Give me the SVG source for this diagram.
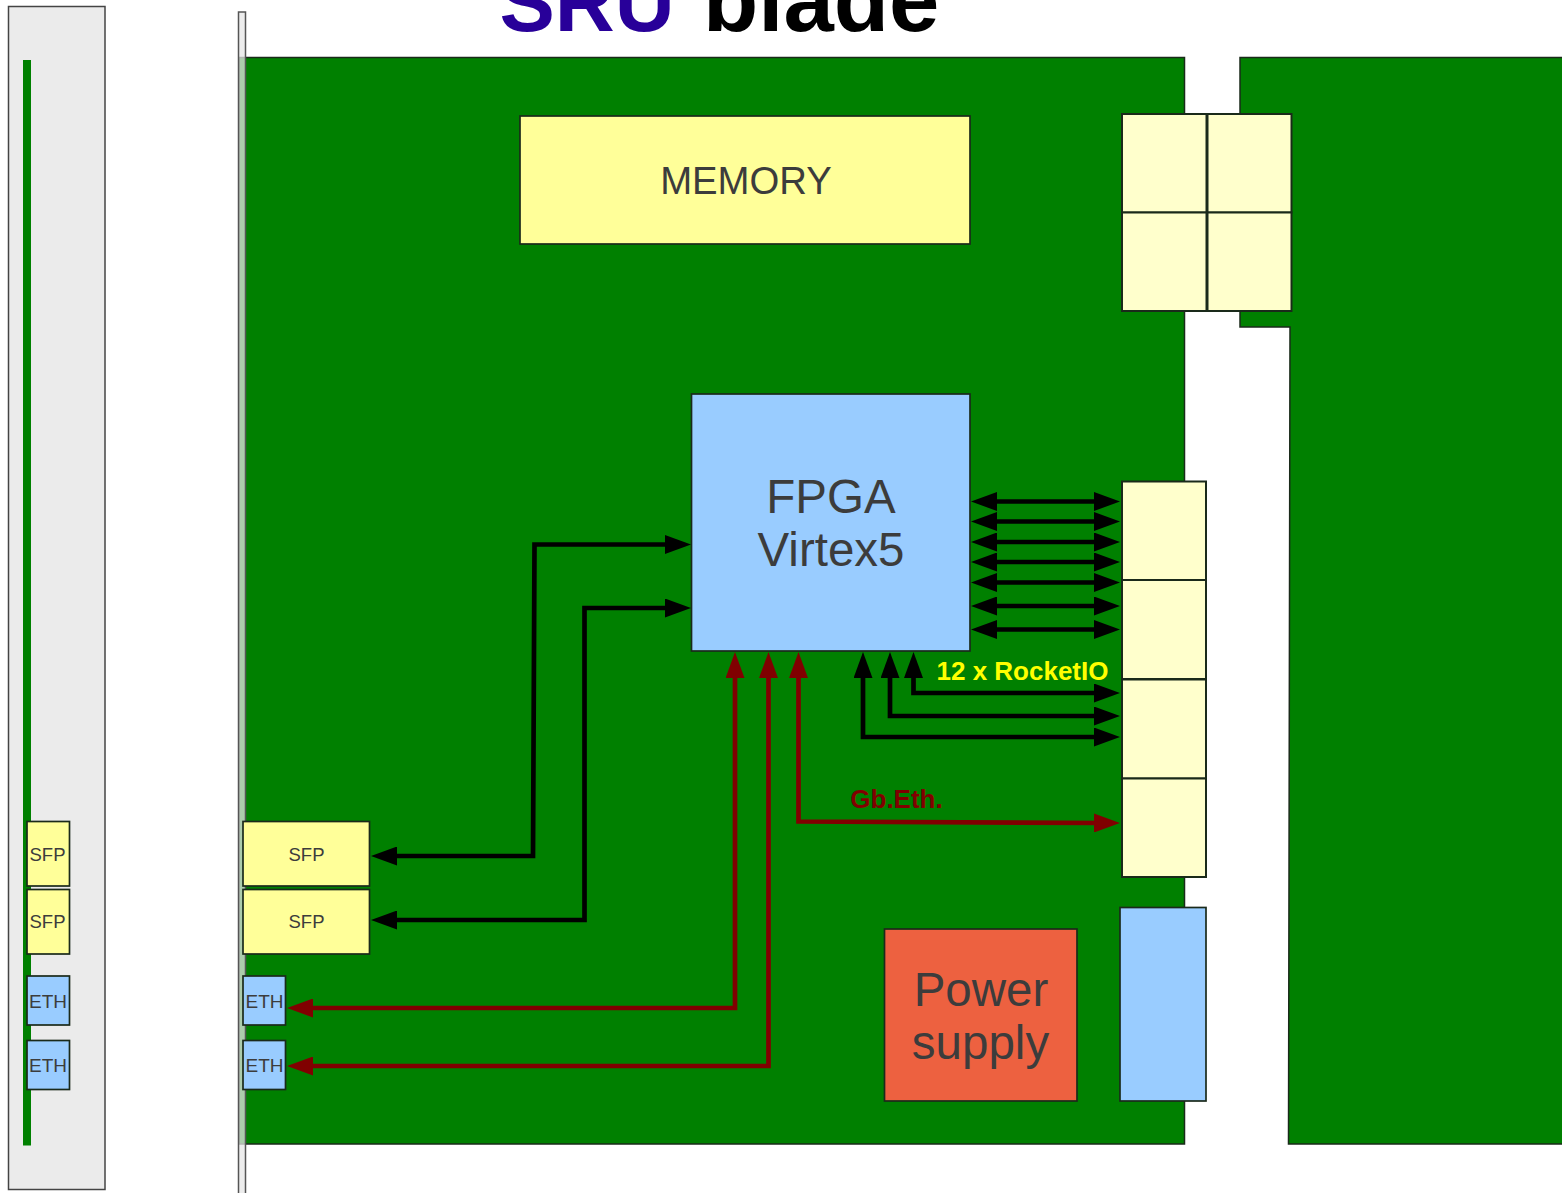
<svg xmlns="http://www.w3.org/2000/svg" width="1562" height="1193" viewBox="0 0 1562 1193">
<style>
text{font-family:"Liberation Sans",Arial,sans-serif;text-anchor:middle;fill:#3c3c3c}
.b{stroke:#1a2a1a;stroke-width:1.700}
.pcb{fill:#008000;stroke:#1a2a1a;stroke-width:1.500}
.y{fill:#ffff99}.c{fill:#ffffcc;stroke-width:2}.l{fill:#99ccff}
.s{font-size:18.500px}.e{font-size:19px}
.k,.r{fill:none;stroke-width:4.700}
.k{stroke:#000}.r{stroke:#800000}
</style>
<defs>
<marker id="ak" markerUnits="userSpaceOnUse" markerWidth="26" markerHeight="19" refX="6" refY="9.500" orient="auto-start-reverse"><path d="M0 0L26 9.500L0 19Z" fill="#000"/></marker>
<marker id="ar" markerUnits="userSpaceOnUse" markerWidth="26" markerHeight="19" refX="6" refY="9.500" orient="auto-start-reverse"><path d="M0 0L26 9.500L0 19Z" fill="#800000"/></marker>
</defs>
<text x="499.500" y="31" style="font-size:83px;font-weight:bold;text-anchor:start;fill:#280099">SRU</text>
<text x="703" y="31" style="font-size:90.500px;font-weight:bold;text-anchor:start;fill:#000">blade</text>
<g id="side-panel">
<rect x="8.500" y="6.500" width="96.500" height="1183" fill="#ebebeb" stroke="#444" stroke-width="1.500"/>
<rect x="23" y="60" width="8" height="1085.500" fill="#008000"/>
</g>
<g id="board"><rect class="pcb" x="239" y="57.500" width="945.500" height="1086.500"/></g>
<g id="board-next"><path class="pcb" d="M1562 57.500H1240V327H1290L1288.500 1144H1562"/></g>
<g id="front-plate"><rect x="238.500" y="12" width="7" height="1185" fill="#e6e6e6" fill-opacity=".75" stroke="#555" stroke-width="1.500"/></g>
<g id="memory"><rect class="b y" x="520" y="116" width="450" height="128"/><text x="746" y="194" font-size="38.300">MEMORY</text></g>
<g id="conn-a"><rect class="b c" x="1122" y="114" width="84.500" height="98.500"/></g>
<g id="conn-b"><rect class="b c" x="1207.500" y="114" width="84" height="98.500"/></g>
<g id="conn-c"><rect class="b c" x="1122" y="212.500" width="84.500" height="98.500"/></g>
<g id="conn-d"><rect class="b c" x="1207.500" y="212.500" width="84" height="98.500"/></g>
<g id="fpga"><rect class="b l" x="691.500" y="394" width="278.500" height="257"/><text x="831" y="513" font-size="47.500">FPGA</text><text x="831" y="566" font-size="47.500">Virtex5</text></g>
<g id="conn-e"><rect class="b c" x="1122" y="481.500" width="84" height="98.500"/></g>
<g id="conn-f"><rect class="b c" x="1122" y="580" width="84" height="99"/></g>
<g id="conn-g"><rect class="b c" x="1122" y="679.500" width="84" height="99"/></g>
<g id="conn-h"><rect class="b c" x="1122" y="778.500" width="84" height="98.500"/></g>
<g id="power"><rect class="b" x="884.500" y="929" width="192.500" height="172" fill="#ed6140"/><text x="981" y="1006" font-size="47.500">Power</text><text x="980.500" y="1059" font-size="47.500">supply</text></g>
<g id="blue-conn"><rect class="b l" x="1120" y="907.500" width="86" height="193.500"/></g>
<g id="sfp1"><rect class="b y" x="243" y="821.500" width="126.500" height="64.500"/><text class="s" x="306.500" y="861">SFP</text></g>
<g id="sfp2"><rect class="b y" x="243" y="889.500" width="126.500" height="64.500"/><text class="s" x="306.500" y="928">SFP</text></g>
<g id="eth1"><rect class="b l" x="243" y="976" width="42.500" height="49"/><text class="e" x="264.500" y="1007.500">ETH</text></g>
<g id="eth2"><rect class="b l" x="243" y="1040.500" width="42.500" height="49"/><text class="e" x="264.500" y="1071.500">ETH</text></g>
<g id="side-sfp1"><rect class="b y" x="27" y="821.500" width="42.500" height="64.500"/><text class="s" x="47.500" y="861">SFP</text></g>
<g id="side-sfp2"><rect class="b y" x="27" y="889.500" width="42.500" height="64.500"/><text class="s" x="47.500" y="928">SFP</text></g>
<g id="side-eth1"><rect class="b l" x="27" y="976" width="42.500" height="49"/><text class="e" x="48" y="1007.500">ETH</text></g>
<g id="side-eth2"><rect class="b l" x="27" y="1040.500" width="42.500" height="49"/><text class="e" x="48" y="1071.500">ETH</text></g>
<g id="connectors">
<path class="k" marker-start="url(#ak)" marker-end="url(#ak)" d="M991 501.500H1100"/>
<path class="k" marker-start="url(#ak)" marker-end="url(#ak)" d="M991 521.500H1100"/>
<path class="k" marker-start="url(#ak)" marker-end="url(#ak)" d="M991 542H1100"/>
<path class="k" marker-start="url(#ak)" marker-end="url(#ak)" d="M991 562H1100"/>
<path class="k" marker-start="url(#ak)" marker-end="url(#ak)" d="M991 582.500H1100"/>
<path class="k" marker-start="url(#ak)" marker-end="url(#ak)" d="M991 606H1100"/>
<path class="k" marker-start="url(#ak)" marker-end="url(#ak)" d="M991 629.500H1100"/>
<path class="k" marker-start="url(#ak)" marker-end="url(#ak)" d="M913.500 672V693H1100"/>
<path class="k" marker-start="url(#ak)" marker-end="url(#ak)" d="M890 672V716H1100"/>
<path class="k" marker-start="url(#ak)" marker-end="url(#ak)" d="M863 672V737H1100"/>
<path class="k" marker-start="url(#ak)" marker-end="url(#ak)" d="M391 856H533L534.500 544.500H671"/>
<path class="k" marker-start="url(#ak)" marker-end="url(#ak)" d="M391 920H584.500V608H671"/>
<path class="r" marker-start="url(#ar)" marker-end="url(#ar)" d="M307 1008H735V672"/>
<path class="r" marker-start="url(#ar)" marker-end="url(#ar)" d="M307 1066H768.500V672"/>
<path class="r" marker-start="url(#ar)" marker-end="url(#ar)" d="M798.500 672V821.500L1100 823"/>
</g>
<text x="1022.500" y="679.500" style="font-size:26px;font-weight:bold;fill:#ffff00">12 x RocketIO</text>
<text x="896.500" y="807.500" style="font-size:26px;font-weight:bold;fill:#800000">Gb.Eth.</text>
</svg>
